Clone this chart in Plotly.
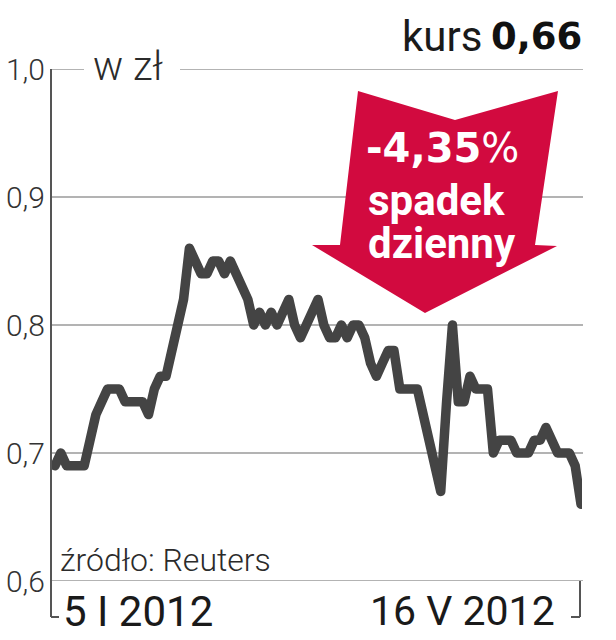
import plotly.graph_objects as go

# ---- data ----
values = [0.69, 0.70, 0.69, 0.69, 0.69, 0.69, 0.71, 0.73, 0.74, 0.75,
          0.75, 0.75, 0.74, 0.74, 0.74, 0.74, 0.73, 0.75, 0.76, 0.76,
          0.78, 0.80, 0.82, 0.86, 0.85, 0.84, 0.84, 0.85, 0.85, 0.84,
          0.85, 0.84, 0.83, 0.82, 0.80, 0.81, 0.80, 0.81, 0.80, 0.81,
          0.82, 0.80, 0.79, 0.80, 0.81, 0.82, 0.80, 0.79, 0.79, 0.80,
          0.79, 0.80, 0.80, 0.79, 0.77, 0.76, 0.77, 0.78, 0.78, 0.75,
          0.75, 0.75, 0.75, 0.73, 0.71, 0.69, 0.67, 0.74, 0.80, 0.74,
          0.74, 0.76, 0.75, 0.75, 0.75, 0.70, 0.71, 0.71, 0.71, 0.70,
          0.70, 0.70, 0.71, 0.71, 0.72, 0.71, 0.70, 0.70, 0.70, 0.69,
          0.66]
days = list(range(len(values)))
y_ticks = [0.6, 0.7, 0.8, 0.9, 1.0]
y_labels = ["0,6", "0,7", "0,8", "0,9", "1,0"]
start_label = "5 I 2012"
end_label = "16 V 2012"
unit_label = "w zł"
source_label = "źródło: Reuters"
kurs_label = "kurs"
last_value = "0,66"
change_label = "-4,35"
change_text = ["spadek", "dzienny"]

# ---- geometry helpers (pixel -> paper) ----
W, H = 616, 640
L, R, T, B = 51, 582, 69, 581


def px(x):
    return (x - L) / (R - L)


def py(y):
    return (B - y) / (B - T)


GRID = "#9a9a9a"
AXIS = "#555555"
RED = "#d20a3f"
TXT = "#2b2b2b"

fig = go.Figure()
fig.add_trace(go.Scatter(x=days, y=values, mode="lines",
                         line=dict(color="#444444", width=9.5),
                         hoverinfo="skip", showlegend=False, cliponaxis=False))

shapes = []
for v in y_ticks[:-1]:
    shapes.append(dict(type="line", xref="paper", yref="y", x0=0, x1=px(583),
                       y0=v, y1=v, line=dict(color=GRID, width=1.5), layer="below"))
# top gridline interrupted by unit label
shapes.append(dict(type="line", xref="paper", yref="y", x0=0, x1=px(84),
                   y0=1.0, y1=1.0, line=dict(color=GRID, width=1.5), layer="below"))
shapes.append(dict(type="line", xref="paper", yref="y", x0=px(180), x1=px(583),
                   y0=1.0, y1=1.0, line=dict(color=GRID, width=1.5), layer="below"))
# left axis + brackets
shapes.append(dict(type="line", xref="paper", yref="paper", x0=0, x1=0,
                   y0=py(617), y1=1, line=dict(color=AXIS, width=2)))
shapes.append(dict(type="line", xref="paper", yref="paper", x0=0, x1=px(59),
                   y0=py(617), y1=py(617), line=dict(color=AXIS, width=2)))
shapes.append(dict(type="line", xref="paper", yref="paper", x0=px(580), x1=px(580),
                   y0=0, y1=py(617), line=dict(color=AXIS, width=2)))
shapes.append(dict(type="line", xref="paper", yref="paper", x0=px(571), x1=px(580),
                   y0=py(617), y1=py(617), line=dict(color=AXIS, width=2)))

# red arrow
pts = [(358, 91), (455, 120), (558, 91), (535, 245), (557, 246),
       (425, 313), (312, 245), (340, 245)]
path = "M " + " L ".join(f"{px(a):.5f},{py(b):.5f}" for a, b in pts) + " Z"
shapes.append(dict(type="path", xref="paper", yref="paper", path=path,
                   fillcolor=RED, line=dict(width=0), layer="above"))

ann = []


def add(text, x, y, xa, size, family="Roboto", weight=300, color=TXT):
    ann.append(dict(text=text, xref="paper", yref="paper", x=px(x), y=py(y),
                    xanchor=xa, yanchor="middle", showarrow=False,
                    font=dict(family=family, size=size, weight=weight, color=color)))


add(unit_label, 91, 66, "left", 40)
add(source_label, 58, 560, "left", 32)
add(start_label, 61, 611, "left", 42, weight=400, color="#1a1a1a")
add(end_label, 557, 611, "right", 41, weight=400, color="#1a1a1a")
add(kurs_label, 484, 36, "right", 42, weight=400, color="#1a1a1a")
add(last_value, 584, 36, "right", 37, family="DejaVu Sans", weight=700, color="#111111")
add(change_label + "<span style='font-weight:400'>%</span>", 364, 148, "left", 40,
    family="DejaVu Sans", weight=700, color="white")
add(change_text[0], 366, 200, "left", 42, weight=700, color="white")
add(change_text[1], 366, 243, "left", 42, weight=700, color="white")

fig.update_layout(
    width=W, height=H, autosize=False,
    margin=dict(l=L, r=W - R, t=T, b=H - B, autoexpand=False),
    paper_bgcolor="white", plot_bgcolor="white",
    shapes=shapes, annotations=ann,
    xaxis=dict(range=[-0.68, 90.17], showgrid=False, zeroline=False, automargin=False,
               showticklabels=False, showline=False, fixedrange=True),
    yaxis=dict(range=[0.6, 1.0], showgrid=False, zeroline=False, showline=False,
               automargin=False,
               tickmode="array", tickvals=y_ticks, ticktext=y_labels, ticks="",
               ticklabelstandoff=5,
               tickfont=dict(family="Roboto", size=30, weight=300, color="#333333"),
               fixedrange=True),
)

post = ("document.body.style.margin='0';"
        "document.querySelectorAll('.scatterlayer path.js-line').forEach(function(p)"
        "{p.style.strokeLinejoin='round';p.style.strokeLinecap='round';});")
fig.write_html("out.html", post_script=post, config={"displayModeBar": False})
